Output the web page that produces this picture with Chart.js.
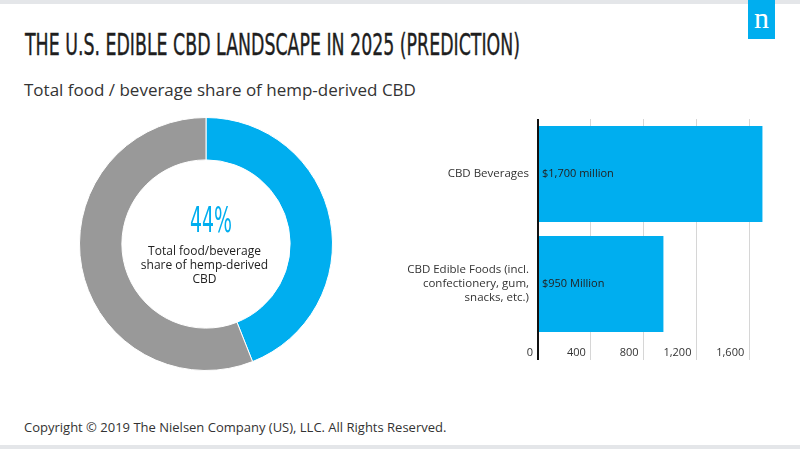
<!DOCTYPE html>
<html>
<head>
<meta charset="utf-8">
<script src="https://cdn.jsdelivr.net/npm/chart.js@4.4.1/dist/chart.umd.min.js"></script>
<style>
  html, body { margin:0; padding:0; background:#fff; }
  body { width:800px; height:449px; position:relative; overflow:hidden; font-family:"Open Sans", sans-serif; color:#2a2a2a; }
  .abs { position:absolute; white-space:nowrap; }
  #topbar { left:0; top:0; width:800px; height:4px; background:#e4e6e9; }
  #botbar { left:0; top:445px; width:800px; height:4px; background:#e4e6e9; }
  #logo { left:748px; top:0; width:27px; height:39px; background:#00aeef; color:#fff; font-family:"Liberation Serif","DejaVu Serif",serif; font-size:30px; line-height:30px; text-align:center; }
  #title { left:25px; top:29px; font-family:"Liberation Sans Narrow","DejaVu Sans Condensed",sans-serif; font-size:31px; line-height:31px; color:#1e1e1e; transform-origin:0 0; -webkit-text-stroke:0.4px #1e1e1e; }
  #subtitle { left:24px; top:81px; font-size:17px; line-height:18px; color:#333; }
  #copy { left:24px; top:420px; font-size:13px; line-height:14px; color:#333; }
  #pct { top:203px; font-family:"Liberation Sans Narrow","DejaVu Sans Condensed",sans-serif; font-size:35px; line-height:35px; color:#00aeef; transform-origin:0 0; }
  #centerText { left:134px; top:244px; width:141px; font-size:12px; line-height:14px; text-align:center; color:#222; white-space:normal; }
  #donutWrap { left:79px; top:117px; width:254px; height:254px; }
  #barWrap { left:380px; top:119px; width:393px; height:251px; }
</style>
</head>
<body>
<div id="topbar" class="abs"></div>
<div id="botbar" class="abs"></div>
<div id="logo" class="abs"><span style="position:relative;top:3px;">n</span></div>
<div id="title" class="abs">THE U.S. EDIBLE CBD LANDSCAPE IN 2025 (PREDICTION)</div>
<div id="subtitle" class="abs">Total food / beverage share of hemp-derived CBD</div>
<div id="donutWrap" class="abs"><canvas id="donut" width="254" height="254"></canvas></div>
<div id="pct" class="abs">44%</div>
<div id="centerText" class="abs">Total food/beverage<br>share of hemp-derived<br>CBD</div>
<div id="barWrap" class="abs"><canvas id="bars" width="393" height="251"></canvas></div>
<div id="copy" class="abs">Copyright © 2019 The Nielsen Company (US), LLC. All Rights Reserved.</div>

<script>
// ---- Data ----
const donutLabels = ['Food / beverage', 'Other hemp-derived CBD'];
const donutValues = [44, 56];
const donutColors = ['#00aeef', '#999999'];

const barCategories = [
  'CBD Beverages',
  ['CBD Edible Foods (incl.', 'confectionery, gum,', 'snacks, etc.)']
];
const barValues = [1700, 950];
const barValueLabels = ['$1,700 million', '$950 Million'];
const xTickStep = 400;
const xMax = 1780;

// ---- Text fitting (condensed display font) ----
function fitWidth(el, target) {
  const w = el.getBoundingClientRect().width;
  el.style.transform = 'scaleX(' + (target / w) + ')';
}
fitWidth(document.getElementById('title'), 495);
const pct = document.getElementById('pct');
const pw = pct.getBoundingClientRect().width;
pct.style.transform = 'scaleX(' + (42 / pw) + ')';
pct.style.left = (211 - 21) + 'px';

// ---- Doughnut ----
new Chart(document.getElementById('donut'), {
  type: 'doughnut',
  data: {
    labels: donutLabels,
    datasets: [{
      data: donutValues,
      backgroundColor: donutColors,
      borderColor: '#ffffff',
      borderWidth: 1,
      hoverOffset: 0
    }]
  },
  options: {
    responsive: false,
    animation: false,
    cutout: '66.5%',
    layout: { padding: 0 },
    plugins: { legend: { display: false }, tooltip: { enabled: false } },
    events: []
  }
});

// ---- Horizontal bars ----
const valueLabelPlugin = {
  id: 'valueLabels',
  afterDatasetsDraw(chart) {
    const ctx = chart.ctx;
    const meta = chart.getDatasetMeta(0);
    ctx.save();
    ctx.font = '11px "Open Sans", sans-serif';
    ctx.fillStyle = '#222';
    ctx.textAlign = 'left';
    ctx.textBaseline = 'middle';
    meta.data.forEach((bar, i) => {
      ctx.fillText(barValueLabels[i], bar.base + 3, bar.y);
    });
    ctx.restore();
  }
};

new Chart(document.getElementById('bars'), {
  type: 'bar',
  data: {
    labels: barCategories,
    datasets: [{
      data: barValues,
      backgroundColor: '#00aeef',
      borderWidth: 0,
      categoryPercentage: 1,
      barPercentage: 0.873
    }]
  },
  options: {
    indexAxis: 'y',
    responsive: false,
    animation: false,
    events: [],
    layout: { padding: 0 },
    plugins: { legend: { display: false }, tooltip: { enabled: false } },
    scales: {
      x: {
        min: 0,
        max: xMax,
        border: { display: false },
        grid: {
          color: (c) => (c.tick && c.tick.value === 0) ? '#111111' : '#d6d6d6',
          lineWidth: (c) => (c.tick && c.tick.value === 0) ? 2 : 1,
          drawTicks: true,
          tickLength: 21
        },
        ticks: {
          stepSize: xTickStep,
          includeBounds: false,
          autoSkip: false,
          maxRotation: 0,
          align: 'end',
          labelOffset: -5,
          padding: -13.6,
          color: '#333',
          font: { family: '"Open Sans", sans-serif', size: 11 },
          callback: (v) => Number(v).toLocaleString('en-US')
        },
        afterBuildTicks: (s) => { s.ticks = s.ticks.filter(t => t.value % xTickStep === 0); },
        afterFit: (s) => { s.height = 31; s.paddingLeft = 0; s.paddingRight = 0; }
      },
      y: {
        border: { display: false },
        grid: { display: false, drawTicks: false },
        ticks: {
          padding: 9,
          color: '#333',
          font: { family: '"Open Sans", sans-serif', size: 11.5, lineHeight: 1.22 }
        },
        afterFit: (s) => { s.width = 158; s.paddingTop = 0; s.paddingBottom = 0; }
      }
    }
  },
  plugins: [valueLabelPlugin]
});
</script>
</body>
</html>
